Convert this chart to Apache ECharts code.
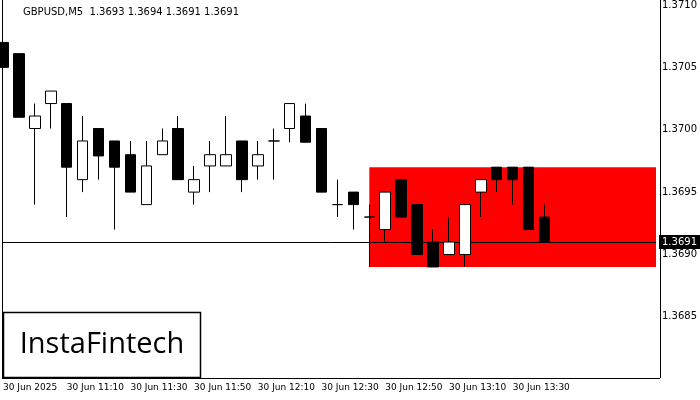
<!DOCTYPE html>
<html><head><meta charset="utf-8">
<script src="https://cdn.jsdelivr.net/npm/echarts@6/dist/echarts.min.js"></script>
<style>html,body{margin:0;padding:0;background:#fff}#c{width:700px;height:400px}</style>
</head><body><div id="c"></div>
<script>
const times = ['10:50','10:55','11:00','11:05','11:10','11:15','11:20','11:25','11:30','11:35','11:40','11:45','11:50','11:55','12:00','12:05','12:10','12:15','12:20','12:25','12:30','12:35','12:40','12:45','12:50','12:55','13:00','13:05','13:10','13:15','13:20','13:25','13:30','13:35','13:40','13:45','13:50','13:55','14:00','14:05','14:10','14:15'];
// [open, close, low, high]
const ohlc = [
[1.37070,1.37050,1.37021,1.37090],
[1.37061,1.37010,1.37010,1.37061],
[1.37001,1.37011,1.36940,1.37021],
[1.37021,1.37031,1.37001,1.37031],
[1.37021,1.36970,1.36930,1.37021],
[1.36960,1.36991,1.36950,1.37011],
[1.37001,1.36979,1.36960,1.37001],
[1.36991,1.36970,1.36920,1.36991],
[1.36980,1.36950,1.36950,1.36991],
[1.36940,1.36971,1.36940,1.36991],
[1.36980,1.36991,1.36980,1.37001],
[1.37001,1.36960,1.36960,1.37011],
[1.36950,1.36960,1.36940,1.36971],
[1.36971,1.36980,1.36950,1.36991],
[1.36971,1.36980,1.36971,1.37011],
[1.36991,1.36960,1.36950,1.36991],
[1.36971,1.36980,1.36960,1.36991],
[1.36991,1.36991,1.36960,1.37001],
[1.37001,1.37021,1.36990,1.37021],
[1.37011,1.36990,1.36990,1.37021],
[1.37001,1.36950,1.36950,1.37001],
[1.36940,1.36940,1.36930,1.36960],
[1.36950,1.36940,1.36920,1.36950],
[1.36930,1.36930,1.36890,1.36940],
[1.36920,1.36950,1.36910,1.36950],
[1.36960,1.36930,1.36930,1.36960],
[1.36940,1.36900,1.36900,1.36940],
[1.36910,1.36890,1.36890,1.36920],
[1.36900,1.36910,1.36900,1.36930],
[1.36900,1.36940,1.36890,1.36940],
[1.36950,1.36960,1.36930,1.36960],
[1.36970,1.36960,1.36950,1.36970],
[1.36970,1.36960,1.36940,1.36970],
[1.36970,1.36920,1.36920,1.36970],
[1.36930,1.36910,1.36910,1.36940]
];
const yTicks = [1.3685,1.3690,1.3695,1.3700,1.3705,1.3710];
const zoneTop = 1.3697, zoneBottom = 1.3689, lastPrice = 1.3691;
const zoneStart = 23, zoneEnd = 41;

const chart = echarts.init(document.getElementById('c'));
const font = 'Tahoma, "DejaVu Sans", sans-serif';
chart.setOption({
  animation:false,
  title:{text:'GBPUSD,M5  1.3693 1.3694 1.3691 1.3691',left:18,top:2,textStyle:{fontSize:10,fontWeight:'normal',color:'#000',fontFamily:font}},
  grid:{left:3,right:36,top:0,bottom:22},
  xAxis:{type:'category',data:times,boundaryGap:false,
    axisLine:{show:false},axisTick:{show:false},splitLine:{show:false},
    axisLabel:{interval:3,align:'left',margin:5,fontSize:9,color:'#000',fontFamily:font,
      formatter:(v,i)=> i===0?'30 Jun 2025':(i<=34?'30 Jun '+v:'')}},
  yAxis:{type:'value',position:'right',min:1.36801,max:1.37103,
    axisLine:{show:false},axisTick:{show:false},splitLine:{show:false},
    axisLabel:{customValues:yTicks,margin:6,fontSize:10,color:'#000',fontFamily:font,formatter:v=>v.toFixed(4)}},
  series:[{type:'candlestick',data:ohlc,barWidth:11,
    itemStyle:{color:'#fff',color0:'#000',borderColor:'#000',borderColor0:'#000',borderWidth:1},
    markArea:{silent:true,itemStyle:{color:'#ff0000',opacity:1},
      data:[[{xAxis:zoneStart,yAxis:zoneTop},{xAxis:zoneEnd,yAxis:zoneBottom}]]},
    markLine:{silent:true,symbol:'none',lineStyle:{color:'#000',width:1,type:'solid'},
      label:{position:'end',distance:3,formatter:()=>lastPrice.toFixed(4),backgroundColor:'#000',color:'#fff',padding:[2,3],fontSize:10,fontFamily:font},
      data:[[{xAxis:0,yAxis:lastPrice},{xAxis:zoneEnd,yAxis:lastPrice}]]},
    z:5
  }],
  graphic:[
    {type:'line',shape:{x1:2.5,y1:0,x2:2.5,y2:378},style:{stroke:'#000',lineWidth:1},z:10},
    {type:'line',shape:{x1:2,y1:378.5,x2:660,y2:378.5},style:{stroke:'#000',lineWidth:1},z:10},
    {type:'line',shape:{x1:660.5,y1:0,x2:660.5,y2:378},style:{stroke:'#000',lineWidth:1},z:10},
    {type:'rect',shape:{x:3.5,y:312.5,width:197,height:65},style:{fill:'#fff',stroke:'#000',lineWidth:1.5},z:20},
    {type:'text',x:102,y:345,style:{text:'InstaFintech',fill:'#000',font:'500 29px "Open Sans", sans-serif',align:'center',verticalAlign:'middle'},z:21}
  ]
});
</script></body></html>
